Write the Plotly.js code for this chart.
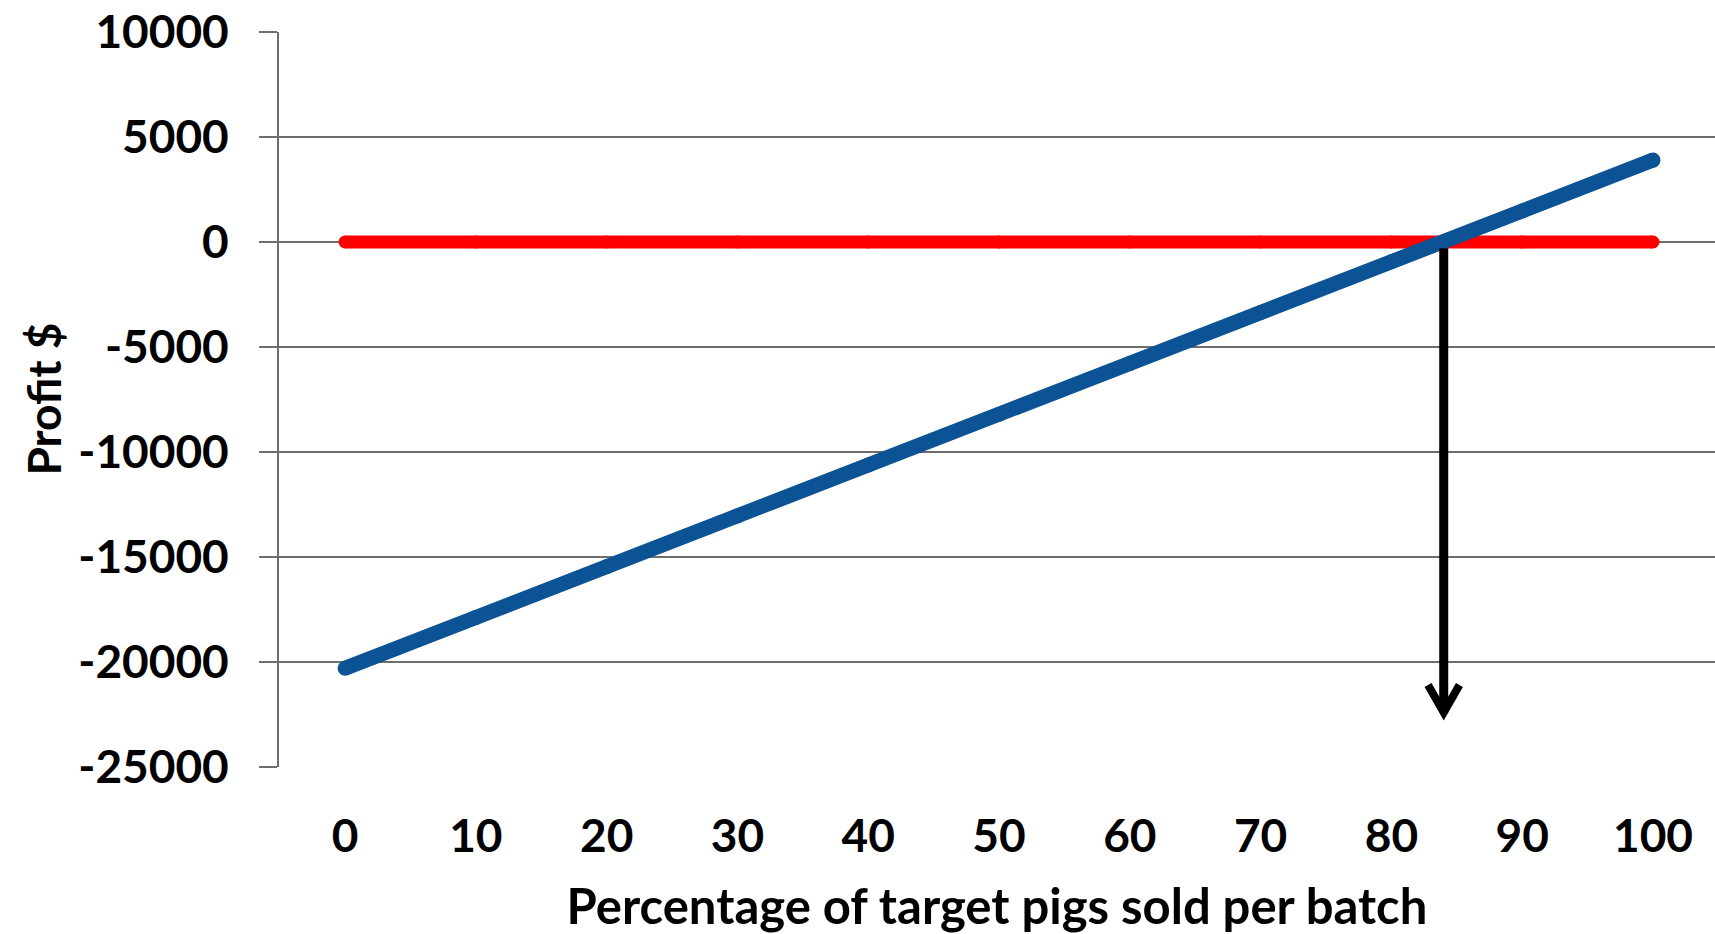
<!DOCTYPE html>
<html>
<head>
<meta charset="utf-8">
<script src="https://cdn.plot.ly/plotly-3.0.1.min.js"></script>
<style>
  html, body { margin: 0; padding: 0; background: #ffffff; }
  #chart { width: 1715px; height: 934px; }
</style>
</head>
<body>
<div id="chart"></div>
<script>
// Percentage of target pigs sold per batch
const pctSold = [0, 10, 20, 30, 40, 50, 60, 70, 80, 90, 100];
const xTickLabels = ['0', '10', '20', '30', '40', '50', '60', '70', '80', '90', '100'];
// Profit ($) at each sales level
const profit = [-20300, -17880, -15460, -13040, -10620, -8200, -5780, -3360, -940, 1480, 3900];
// Zero-profit reference line
const breakEvenLine = [0, 0, 0, 0, 0, 0, 0, 0, 0, 0, 0];
// Break-even point marked with a downward arrow
const breakEvenPct = 84;
const arrowTipProfit = -22400;
const yTicks = [10000, 5000, 0, -5000, -10000, -15000, -20000, -25000];
const yTickLabels = ['10000', '5000', '0', '-5000', '-10000', '-15000', '-20000', '-25000'];

const FONT = 'Lato, "Open Sans", sans-serif';
const GRID = '#6e6e6e';

const traces = [
  {
    x: pctSold, y: breakEvenLine, type: 'scatter', mode: 'lines+markers',
    line: { color: '#ff0000', width: 13 },
    marker: { color: '#ff0000', size: 13 },
    hoverinfo: 'skip', showlegend: false
  },
  {
    x: pctSold, y: profit, type: 'scatter', mode: 'lines+markers',
    line: { color: '#0b5394', width: 15 },
    marker: { color: '#0b5394', size: 15 },
    showlegend: false
  }
];

// arrowhead size in data units
const headHalfW = 1.2;
const headH = 1300;

const layout = {
  width: 1715, height: 934,
  margin: { l: 279, r: 0, t: 32, b: 167 },
  paper_bgcolor: '#ffffff', plot_bgcolor: '#ffffff',
  font: { family: FONT, color: '#000000' },
  showlegend: false,
  xaxis: {
    range: [-5.05, 104.74],
    tickmode: 'array', tickvals: pctSold, ticktext: xTickLabels,
    showgrid: false, zeroline: false, showline: false, ticks: '',
    ticklabelstandoff: 38,
    tickfont: { family: FONT, size: 46, weight: 'bold', color: '#000000' },
    title: {
      text: 'Percentage of target pigs sold per batch',
      font: { family: FONT, size: 49, weight: 'bold', color: '#000000' },
      standoff: 28
    },
    fixedrange: true
  },
  yaxis: {
    range: [-25000, 10000],
    tickmode: 'array', tickvals: yTicks, ticktext: yTickLabels,
    showgrid: true, gridcolor: GRID, gridwidth: 2,
    zeroline: false,
    showline: true, linecolor: GRID, linewidth: 2,
    ticks: 'outside', ticklen: 18, tickwidth: 2, tickcolor: GRID,
    ticklabelstandoff: 21,
    tickfont: { family: FONT, size: 46, weight: 'bold', color: '#000000' },
    fixedrange: true
  },
  annotations: [
    {
      // vertical axis title
      text: 'Profit $', textangle: -90,
      xref: 'paper', yref: 'paper', x: -0.1643, y: 0.5,
      xanchor: 'center', yanchor: 'middle', showarrow: false,
      font: { family: FONT, size: 46, weight: 'bold', color: '#000000' }
    }
  ],
  shapes: [
    {
      type: 'line', xref: 'x', yref: 'y',
      x0: breakEvenPct, x1: breakEvenPct, y0: -300, y1: arrowTipProfit,
      line: { color: '#000000', width: 9 }
    },
    {
      type: 'path', xref: 'x', yref: 'y',
      path: 'M ' + (breakEvenPct - headHalfW) + ' ' + (arrowTipProfit + headH) +
            ' L ' + breakEvenPct + ' ' + arrowTipProfit +
            ' L ' + (breakEvenPct + headHalfW) + ' ' + (arrowTipProfit + headH),
      line: { color: '#000000', width: 8 }
    }
  ]
};

Plotly.newPlot('chart', traces, layout, { displayModeBar: false, staticPlot: true });
</script>
</body>
</html>
